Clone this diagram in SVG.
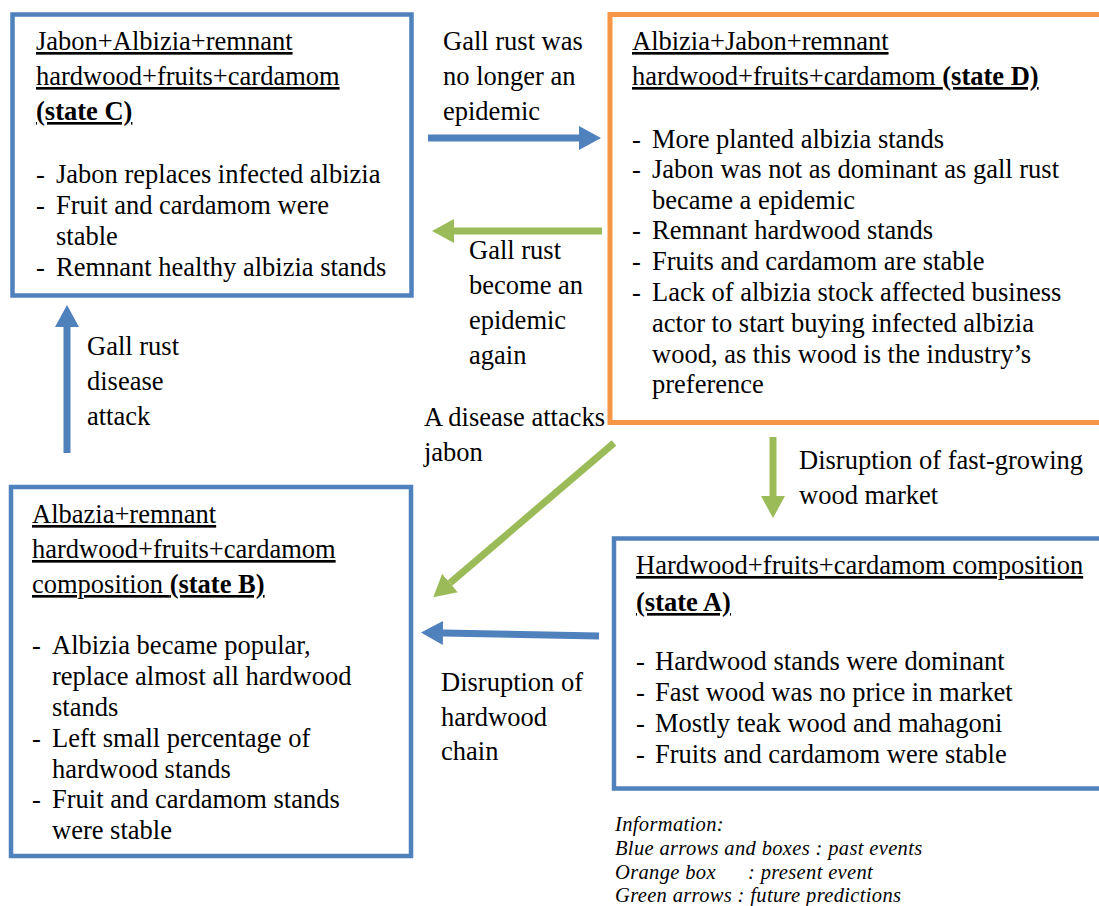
<svg xmlns="http://www.w3.org/2000/svg" width="1099" height="906" viewBox="0 0 1099 906">
<style>
.t{font-family:'Liberation Serif',serif;font-size:26.5px;fill:#000}
.u{text-decoration:underline}
.b{font-weight:bold}
.lg{font-family:'Liberation Serif',serif;font-size:20.5px;font-style:italic;fill:#000;letter-spacing:0.35px}
.bluebox{fill:#fff;stroke:#4F81BD;stroke-width:4.5}
.orangebox{fill:#fff;stroke:#F79646;stroke-width:5}
.ab{stroke:#4F81BD;stroke-width:7;fill:none}
.ag{stroke:#9BBB59;stroke-width:7;fill:none}
</style>
<defs>
<marker id="hb" markerUnits="userSpaceOnUse" markerWidth="24" markerHeight="26" refX="0" refY="13" orient="auto" viewBox="0 0 24 26"><path d="M0,1 L22,13 L0,25 Z" fill="#4F81BD"/></marker>
<marker id="hg" markerUnits="userSpaceOnUse" markerWidth="24" markerHeight="26" refX="0" refY="13" orient="auto" viewBox="0 0 24 26"><path d="M0,1 L22,13 L0,25 Z" fill="#9BBB59"/></marker>
</defs>
<rect width="1099" height="906" fill="#fff"/>

<g id="connectors">
<path class="ab" d="M428,138 L579,138" marker-end="url(#hb)"/>
<path class="ag" d="M602,231 L454,231" marker-end="url(#hg)"/>
<path class="ab" d="M67,453 L67,327" marker-end="url(#hb)"/>
<path class="ag" d="M614,443 L450,583" marker-end="url(#hg)"/>
<path class="ag" d="M773,437 L773,496" marker-end="url(#hg)"/>
<path class="ab" d="M599,636 L443,633" marker-end="url(#hb)"/>
</g>

<g id="labels">
<text class="t" x="443" y="50">Gall rust was</text>
<text class="t" x="443" y="85">no longer an</text>
<text class="t" x="443" y="120">epidemic</text>
<text class="t" x="469" y="259">Gall rust</text>
<text class="t" x="469" y="294">become an</text>
<text class="t" x="469" y="329">epidemic</text>
<text class="t" x="469" y="364">again</text>
<text class="t" x="87" y="355">Gall rust</text>
<text class="t" x="87" y="390">disease</text>
<text class="t" x="87" y="425">attack</text>
<text class="t" x="424" y="426">A disease attacks</text>
<text class="t" x="424" y="461">jabon</text>
<text class="t" x="799" y="469">Disruption of fast-growing</text>
<text class="t" x="799" y="504">wood market</text>
<text class="t" x="441" y="691">Disruption of</text>
<text class="t" x="441" y="726">hardwood</text>
<text class="t" x="441" y="760">chain</text>
</g>

<g id="stateC">
<rect class="bluebox" x="12.5" y="14.5" width="399" height="281"/>
<text class="t u" x="36" y="50">Jabon+Albizia+remnant</text>
<text class="t u" x="36" y="85">hardwood+fruits+cardamom</text>
<text class="t u b" x="36" y="120">(state C)</text>
<text class="t" x="36" y="183">-</text><text class="t" x="56" y="183">Jabon replaces infected albizia</text>
<text class="t" x="36" y="214">-</text><text class="t" x="56" y="214">Fruit and cardamom were</text>
<text class="t" x="56" y="245">stable</text>
<text class="t" x="36" y="276">-</text><text class="t" x="56" y="276">Remnant healthy albizia stands</text>
</g>

<g id="stateD">
<rect class="orangebox" x="610" y="14.5" width="500" height="408"/>
<text class="t u" x="632" y="50">Albizia+Jabon+remnant</text>
<text class="t u" x="632" y="85">hardwood+fruits+cardamom <tspan class="b">(state D)</tspan></text>
<text class="t" x="632" y="148">-</text><text class="t" x="652" y="148">More planted albizia stands</text>
<text class="t" x="632" y="178">-</text><text class="t" x="652" y="178">Jabon was not as dominant as gall rust</text>
<text class="t" x="652" y="209">became a epidemic</text>
<text class="t" x="632" y="239">-</text><text class="t" x="652" y="239">Remnant hardwood stands</text>
<text class="t" x="632" y="270">-</text><text class="t" x="652" y="270">Fruits and cardamom are stable</text>
<text class="t" x="632" y="301">-</text><text class="t" x="652" y="301">Lack of albizia stock affected business</text>
<text class="t" x="652" y="332">actor to start buying infected albizia</text>
<text class="t" x="652" y="363">wood, as this wood is the industry’s</text>
<text class="t" x="652" y="393">preference</text>
</g>

<g id="stateB">
<rect class="bluebox" x="11" y="487" width="400" height="369"/>
<text class="t u" x="32" y="523">Albazia+remnant</text>
<text class="t u" x="32" y="558">hardwood+fruits+cardamom</text>
<text class="t u" x="32" y="593">composition <tspan class="b">(state B)</tspan></text>
<text class="t" x="32" y="654">-</text><text class="t" x="52" y="654">Albizia became popular,</text>
<text class="t" x="52" y="685">replace almost all hardwood</text>
<text class="t" x="52" y="716">stands</text>
<text class="t" x="32" y="747">-</text><text class="t" x="52" y="747">Left small percentage of</text>
<text class="t" x="52" y="778">hardwood stands</text>
<text class="t" x="32" y="808">-</text><text class="t" x="52" y="808">Fruit and cardamom stands</text>
<text class="t" x="52" y="839">were stable</text>
</g>

<g id="stateA">
<rect class="bluebox" x="614" y="538.5" width="500" height="250"/>
<text class="t u" x="636" y="574">Hardwood+fruits+cardamom composition</text>
<text class="t u b" x="636" y="611">(state A)</text>
<text class="t" x="636" y="670">-</text><text class="t" x="655" y="670">Hardwood stands were dominant</text>
<text class="t" x="636" y="701">-</text><text class="t" x="655" y="701">Fast wood was no price in market</text>
<text class="t" x="636" y="732">-</text><text class="t" x="655" y="732">Mostly teak wood and mahagoni</text>
<text class="t" x="636" y="763">-</text><text class="t" x="655" y="763">Fruits and cardamom were stable</text>
</g>

<g id="legend">
<text class="lg" x="615" y="831">Information:</text>
<text class="lg" x="615" y="855">Blue arrows and boxes : past events</text>
<text class="lg" x="615" y="879">Orange box<tspan x="748">: present event</tspan></text>
<text class="lg" x="615" y="902">Green arrows : future predictions</text>
</g>
</svg>
